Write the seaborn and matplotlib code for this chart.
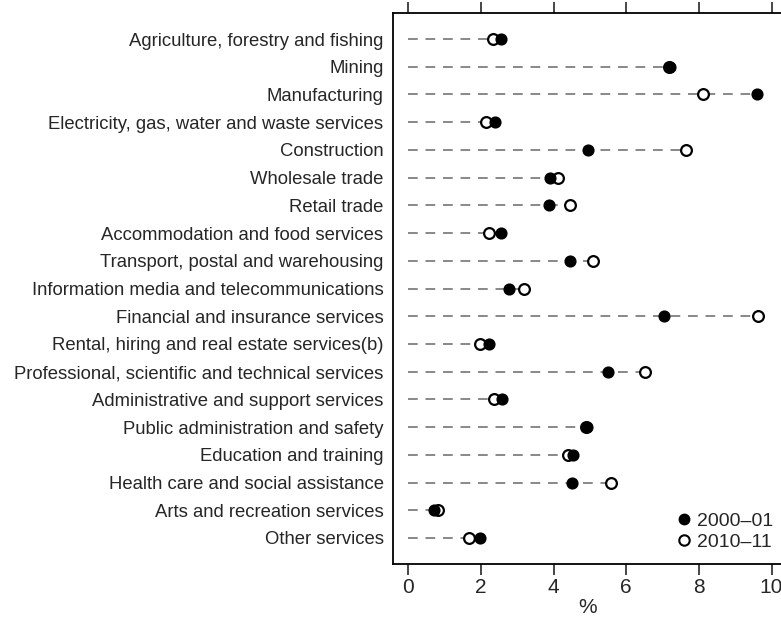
import pandas as pd
import matplotlib
matplotlib.use("Agg")
import matplotlib.pyplot as plt
from matplotlib.lines import Line2D
import seaborn as sns

industries = [
    "Agriculture, forestry and fishing",
    "Mining",
    "Manufacturing",
    "Electricity, gas, water and waste services",
    "Construction",
    "Wholesale trade",
    "Retail trade",
    "Accommodation and food services",
    "Transport, postal and warehousing",
    "Information media and telecommunications",
    "Financial and insurance services",
    "Rental, hiring and real estate services(b)",
    "Professional, scientific and technical services",
    "Administrative and support services",
    "Public administration and safety",
    "Education and training",
    "Health care and social assistance",
    "Arts and recreation services",
    "Other services",
]
share_2000 = [2.56, 7.20, 9.60, 2.39, 4.94, 3.90, 3.88, 2.55, 4.46, 2.78,
              7.05, 2.22, 5.50, 2.57, 4.92, 4.54, 4.52, 0.70, 1.98]
share_2010 = [2.33, 7.18, 8.11, 2.13, 7.65, 4.11, 4.45, 2.23, 5.08, 3.18,
              9.62, 1.98, 6.52, 2.37, 4.89, 4.41, 5.58, 0.82, 1.68]
year_labels = ["2000\u201301", "2010\u201311"]


def main():
    sns.set_style("ticks")
    plt.rcParams["font.family"] = ["Liberation Sans", "DejaVu Sans"]

    df = pd.DataFrame({"Industry": industries,
                       "y2000": share_2000,
                       "y2010": share_2010})
    df["pos"] = range(len(df))
    df["reach"] = df[["y2000", "y2010"]].max(axis=1)

    fig = plt.figure(figsize=(7.81, 6.20), dpi=100)
    ax = fig.add_axes([0.5036, 0.0903, 0.4964, 0.8892])

    # dashed guide lines from zero to the furthest point
    ax.hlines(df["pos"], 0, df["reach"], colors="#888888",
              linestyles=(0, (5, 4)), linewidth=1.4, zorder=1)

    sns.scatterplot(data=df, x="y2010", y="pos", ax=ax, s=60,
                    color="white", edgecolor="black", linewidth=1.6,
                    zorder=3, legend=False)
    sns.scatterplot(data=df, x="y2000", y="pos", ax=ax, s=60,
                    color="black", edgecolor="black", linewidth=1.0,
                    zorder=4, legend=False)

    ax.set_xlim(-0.41, 10.26)
    ax.set_ylim(len(df) - 1 + 0.94, -0.95)
    ax.set_xticks([0, 2, 4, 6, 8, 10])
    ax.set_yticks(df["pos"])
    ax.set_yticklabels(df["Industry"], fontsize=13.3)
    ax.tick_params(axis="y", length=0, pad=7)
    ax.tick_params(axis="x", labelsize=15, length=8, width=1.2,
                   top=True, labeltop=False, direction="out", pad=2)
    ax.set_xlabel("%", fontsize=15, labelpad=1)
    ax.set_ylabel("")
    ax.spines["right"].set_visible(False)
    for s in ["left", "top", "bottom"]:
        ax.spines[s].set_linewidth(1.3)
        ax.spines[s].set_color("black")

    handles = [
        Line2D([], [], marker="o", linestyle="", markersize=7.5,
               markerfacecolor="black", markeredgecolor="black"),
        Line2D([], [], marker="o", linestyle="", markersize=7.5,
               markerfacecolor="white", markeredgecolor="black",
               markeredgewidth=1.5),
    ]
    ax.legend(handles, year_labels, loc="lower right", frameon=False,
              fontsize=14, handletextpad=0.2, handlelength=0.9,
              labelspacing=0.15, borderaxespad=0.0,
              bbox_to_anchor=(1.0, 0.01))

    fig.savefig("out.png", dpi=100)


main()
